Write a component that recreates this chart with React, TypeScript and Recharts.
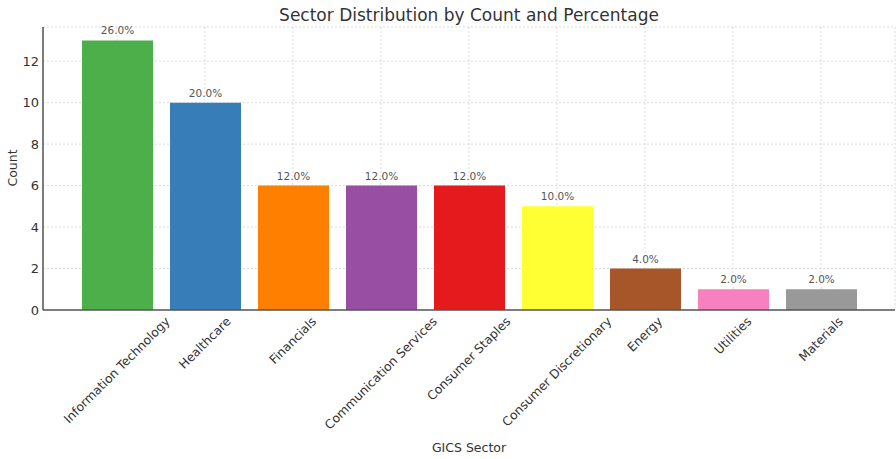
import React from "react";
import { BarChart, Bar, XAxis, YAxis, CartesianGrid, Cell, LabelList } from "recharts";

// Data
const sectors = [
  "Information Technology",
  "Healthcare",
  "Financials",
  "Communication Services",
  "Consumer Staples",
  "Consumer Discretionary",
  "Energy",
  "Utilities",
  "Materials",
];
const counts = [13, 10, 6, 6, 6, 5, 2, 1, 1];
const percentLabels = ["26.0%", "20.0%", "12.0%", "12.0%", "12.0%", "10.0%", "4.0%", "2.0%", "2.0%"];
const barColors = ["#4daf4a", "#377eb8", "#ff7f00", "#984ea3", "#e41a1c", "#ffff33", "#a65628", "#f781bf", "#999999"];
const yTicks = [0, 2, 4, 6, 8, 10, 12];

const chartData = sectors.map((name, i) => ({ name, count: counts[i], pct: percentLabels[i] }));

const FONT = "DejaVu Sans, Verdana, sans-serif";
const W = 896;
const H = 459;

let ctx: CanvasRenderingContext2D | null = null;
function textWidth(s: string, size: number) {
  if (!ctx) ctx = document.createElement("canvas").getContext("2d");
  if (!ctx) return s.length * size * 0.6;
  ctx.font = `${size}px DejaVu Sans`;
  return ctx.measureText(s).width;
}

// rotated tick, bbox centred on the tick like mpl ha='center'
const SectorTick = (props: any) => {
  const { x, y, payload } = props;
  const fs = 12.3;
  const w = textWidth(payload.value, fs);
  const ext = (w + fs) * Math.SQRT1_2;
  const cy = y + 3 + ext / 2;
  return (
    <text
      x={x}
      y={cy}
      transform={`rotate(-45, ${x}, ${cy})`}
      textAnchor="middle"
      dominantBaseline="central"
      fontSize={fs}
      fontFamily={FONT}
      fill="#333"
    >
      {payload.value}
    </text>
  );
};

export default function App() {
  return (
    <div style={{ position: "absolute", left: 0, top: 0, width: W, height: H, background: "#fff", fontFamily: FONT }}>
      <div style={{ position: "absolute", left: 43, width: 852, top: 5, textAlign: "center", fontSize: 17, color: "#333" }}>
        Sector Distribution by Count and Percentage
      </div>
      <div
        style={{
          position: "absolute",
          left: 12,
          top: 168,
          fontSize: 12.5,
          color: "#333",
          transform: "translate(-50%, -50%) rotate(-90deg)",
          whiteSpace: "nowrap",
        }}
      >
        Count
      </div>
      <div style={{ position: "absolute", left: 43, width: 852, top: 440, textAlign: "center", fontSize: 12.5, color: "#333" }}>
        GICS Sector
      </div>
      <BarChart
        width={W}
        height={H}
        data={chartData}
        margin={{ top: 27, right: 1, left: 0, bottom: 0 }}
        style={{ position: "absolute", left: 0, top: 0 }}
      >
        <CartesianGrid stroke="#dcdcdc" strokeDasharray="2 2" />
        <XAxis
          dataKey="name"
          interval={0}
          height={149}
          padding={{ left: 30, right: 30 }}
          tick={<SectorTick />}
          tickLine={false}
          tickSize={0}
          axisLine={{ stroke: "#555", strokeWidth: 1.5 }}
        />
        <YAxis
          width={43}
          domain={[0, 13.65]}
          ticks={yTicks}
          tickLine={false}
          tickMargin={4}
          tickSize={0}
          axisLine={{ stroke: "#555", strokeWidth: 1.5 }}
          tick={{ fontSize: 13, fill: "#333", fontFamily: FONT }}
        />
        <Bar dataKey="count" barSize={71} isAnimationActive={false}>
          {chartData.map((d, i) => (
            <Cell key={d.name} fill={barColors[i]} />
          ))}
          <LabelList
            dataKey="pct"
            position="top"
            offset={6}
            style={{ fontSize: 10.5, fill: "#555", fontFamily: FONT }}
          />
        </Bar>
      </BarChart>
    </div>
  );
}
